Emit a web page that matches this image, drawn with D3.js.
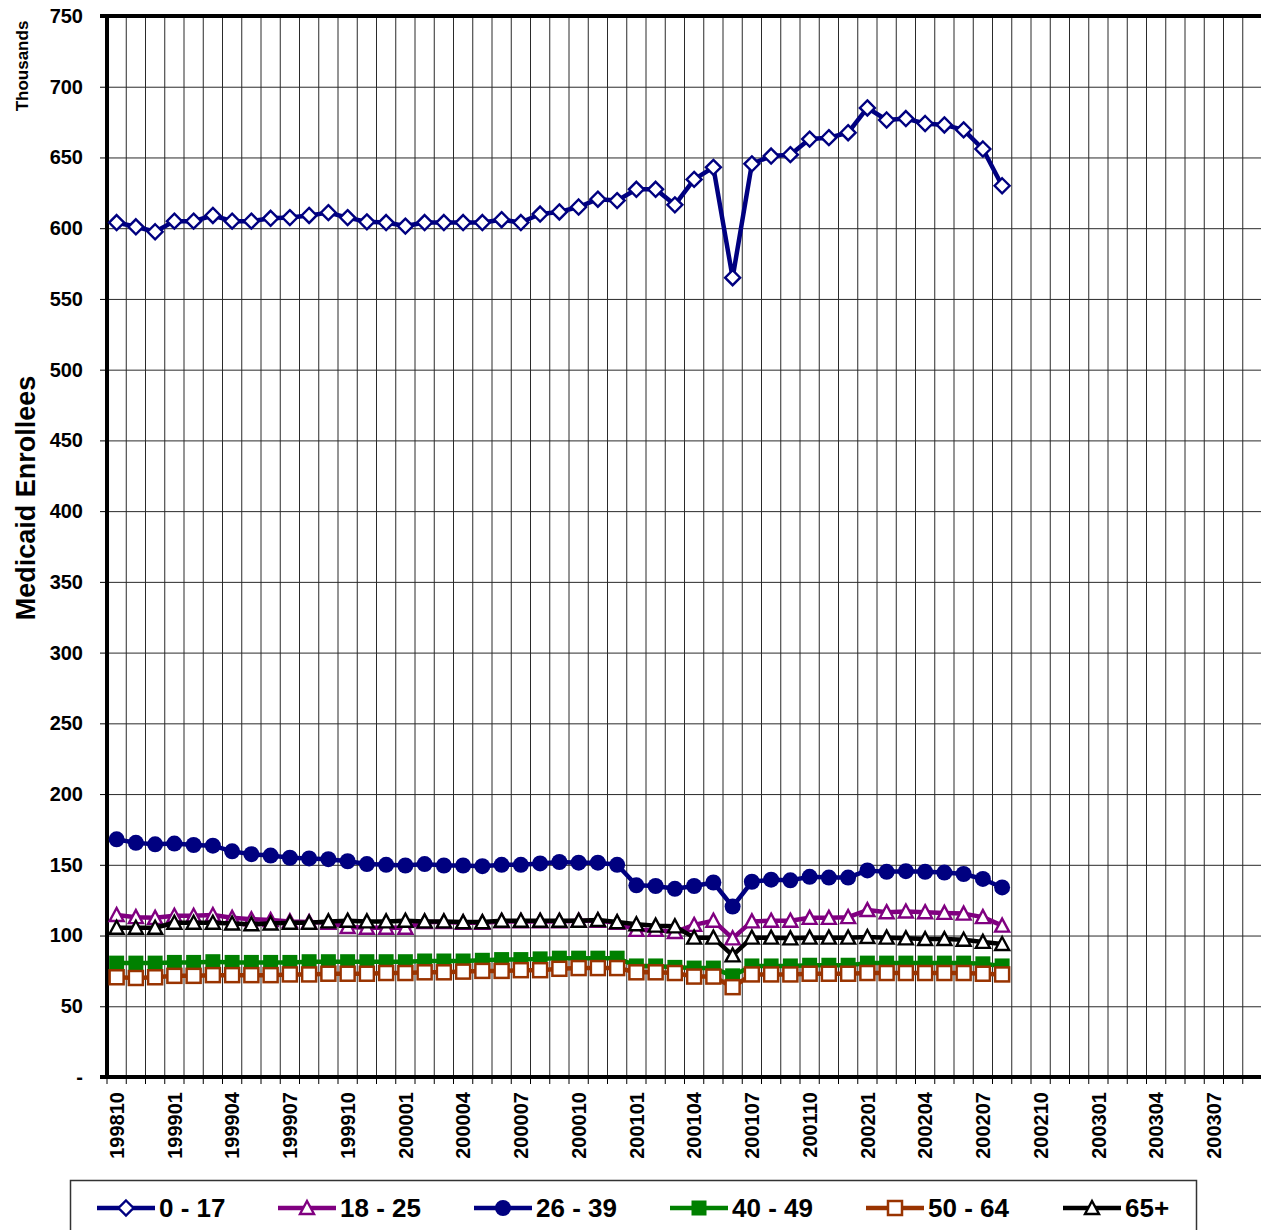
<!DOCTYPE html>
<html>
<head>
<meta charset="utf-8">
<script src="https://cdn.jsdelivr.net/npm/d3@7"></script>
<style>
  html, body { margin: 0; padding: 0; background: #fff; overflow: hidden; }
  svg { display: block; }
</style>
</head>
<body>
<div id="chart"></div>
<script>
// months shown on the category axis (data stops at 200208)
const categories = [
  "199810", "199811", "199812",
  "199901", "199902", "199903", "199904", "199905", "199906", "199907", "199908", "199909", "199910", "199911", "199912",
  "200001", "200002", "200003", "200004", "200005", "200006", "200007", "200008", "200009", "200010", "200011", "200012",
  "200101", "200102", "200103", "200104", "200105", "200106", "200107", "200108", "200109", "200110", "200111", "200112",
  "200201", "200202", "200203", "200204", "200205", "200206", "200207", "200208", "200209", "200210", "200211", "200212",
  "200301", "200302", "200303", "200304", "200305", "200306", "200307", "200308", "200309",
];

// enrollees in thousands, 199810 .. 200208
const age0to17 = [604, 601, 597.5, 605, 605, 609, 605, 605, 607, 607.5, 609, 611, 607.5, 604.5, 604, 601.5,
  604, 604, 604, 604, 606, 604, 610, 611.5, 615, 620.5, 619.5, 627.5, 627.5, 616.5, 634.5, 643, 565,
  645.5, 651, 652, 663, 664, 667.5, 685, 676.5, 677.5, 674, 673, 669.5, 656, 630];
const age18to25 = [114.5, 113, 112.5, 114, 114, 114.5, 112.5, 111.5, 111, 110, 109.5, 109, 106, 105.5, 105.5, 105.5,
  109.5, 109.5, 109, 109, 110, 110, 110, 110, 110.5, 110.5, 109, 104, 104, 102.5, 107.5, 110.5, 98,
  110, 110.5, 110.5, 112.5, 112.5, 113, 118, 116.5, 117, 116.5, 116, 115.5, 113, 107];
const age26to39 = [168, 165.5, 164.5, 165, 164, 163.5, 159.5, 157.5, 156.5, 155, 154.5, 154, 152.5, 150.5, 150, 149.5,
  150.5, 149.5, 149.5, 149, 150, 150, 151, 152, 151.5, 151.5, 150, 135.5, 135, 133, 135, 137.5, 120.5,
  138, 139.5, 139, 141.5, 141, 141, 146, 145, 145.5, 145, 144.5, 143.5, 140, 134];
const age40to49 = [80.5, 80.5, 80.5, 81, 81, 81.5, 81, 81, 81, 81, 81.5, 81.5, 81.5, 81.5, 81.5, 81.5,
  82, 82, 82, 82.5, 83, 83, 83.5, 84, 84, 84, 84, 78.5, 78.5, 77.5, 77, 77, 71.5,
  78.5, 78.5, 78.5, 79, 79, 79, 80.5, 80.5, 80.5, 80.5, 80.5, 80.5, 80, 78.5];
const age50to64 = [70.5, 70, 70.5, 71.5, 71.5, 72, 72, 72, 72, 72.5, 72.5, 73, 73, 73, 73.5, 73.5,
  74, 74, 74.5, 75, 75, 75.5, 75.5, 76.5, 77, 77, 77, 74, 74, 73.5, 71, 71, 63.5,
  72.5, 72.5, 72.5, 73, 73, 73, 73.5, 73.5, 73.5, 73.5, 73.5, 73.5, 73, 72.5];
const age65plus = [105.5, 105.5, 105.5, 109, 109, 109, 108.5, 108, 108.5, 109, 109, 110, 110.5, 110, 110, 110.5,
  110, 110, 109.5, 109.5, 110.5, 110.5, 110.5, 110.5, 110.5, 111, 109.5, 108, 107, 106.5, 98.5, 98.5, 86,
  98.5, 98.5, 98, 98.5, 98.5, 98.5, 99, 98.5, 98, 97.5, 97.5, 97, 95.5, 94];

const seriesNames = ["0 - 17", "18 - 25", "26 - 39", "40 - 49", "50 - 64", "65+"];
const yTicks = [0, 50, 100, 150, 200, 250, 300, 350, 400, 450, 500, 550, 600, 650, 700, 750];

const series = [
  { name: seriesNames[0], values: age0to17, color: "#000080", marker: "diamond" },
  { name: seriesNames[1], values: age18to25, color: "#800080", marker: "triangle" },
  { name: seriesNames[2], values: age26to39, color: "#000080", marker: "circle" },
  { name: seriesNames[3], values: age40to49, color: "#008000", marker: "filledSquare" },
  { name: seriesNames[4], values: age50to64, color: "#993300", marker: "square" },
  { name: seriesNames[5], values: age65plus, color: "#000000", marker: "triangle" },
];

const width = 1261;
const height = 1230;
const font = "'Liberation Sans', Arial, sans-serif";
const plot = { left: 107, right: 1262, top: 16, bottom: 1077 };

const svg = d3.select("#chart")
  .append("svg")
  .attr("width", width)
  .attr("height", height)
  .attr("viewBox", `0 0 ${width} ${height}`);

const x = d3.scaleBand()
  .domain(categories)
  .range([plot.left, plot.right])
  .padding(0);

const y = d3.scaleLinear()
  .domain([0, 750])
  .range([plot.bottom, plot.top]);

const cx = (i) => x(categories[i]) + x.bandwidth() / 2;

// gridlines
svg.append("g")
  .attr("transform", `translate(${plot.left},0)`)
  .call(d3.axisLeft(y).tickValues(yTicks.slice(1, -1)).tickSize(-(plot.right - plot.left)).tickFormat(""))
  .call((g) => g.select(".domain").remove())
  .call((g) => g.selectAll("line").attr("stroke", "#2a2a2a").attr("stroke-width", 1));

svg.append("g")
  .selectAll("line")
  .data(categories.slice(1))
  .join("line")
  .attr("x1", (c) => x(c))
  .attr("x2", (c) => x(c))
  .attr("y1", plot.top)
  .attr("y2", plot.bottom)
  .attr("stroke", "#2a2a2a")
  .attr("stroke-width", 1);

// small ticks under the category axis
svg.append("g")
  .selectAll("line")
  .data(categories)
  .join("line")
  .attr("x1", (c) => x(c))
  .attr("x2", (c) => x(c))
  .attr("y1", plot.bottom)
  .attr("y2", plot.bottom + 7)
  .attr("stroke", "#000")
  .attr("stroke-width", 1);

// value axis
svg.append("g")
  .attr("transform", `translate(${plot.left},0)`)
  .call(d3.axisLeft(y).tickValues(yTicks).tickSize(7).tickPadding(17).tickFormat((v) => (v === 0 ? "-" : v)))
  .call((g) => g.select(".domain").remove())
  .call((g) => g.selectAll("line").attr("stroke", "#000"))
  .call((g) => g.selectAll("text")
    .attr("fill", "#000")
    .attr("font-family", font)
    .attr("font-weight", "bold")
    .attr("font-size", 20));

// category axis labels, every third month
svg.append("g")
  .attr("transform", `translate(0,${plot.bottom})`)
  .call(d3.axisBottom(x).tickValues(categories.filter((c, i) => i % 3 === 0)).tickSize(0))
  .call((g) => g.select(".domain").remove())
  .call((g) => g.selectAll("text")
    .attr("fill", "#000")
    .attr("font-family", font)
    .attr("font-weight", "bold")
    .attr("font-size", 20)
    .attr("text-anchor", "end")
    .attr("transform", "rotate(-90)")
    .attr("x", -15)
    .attr("y", 0)
    .attr("dy", "0.36em"));

// frame
svg.append("line")
  .attr("x1", plot.left - 7).attr("x2", plot.right)
  .attr("y1", plot.top).attr("y2", plot.top)
  .attr("stroke", "#000").attr("stroke-width", 4);
svg.append("line")
  .attr("x1", plot.left - 7).attr("x2", plot.right)
  .attr("y1", plot.bottom).attr("y2", plot.bottom)
  .attr("stroke", "#000").attr("stroke-width", 4);
svg.append("line")
  .attr("x1", plot.left).attr("x2", plot.left)
  .attr("y1", plot.top - 2).attr("y2", plot.bottom + 2)
  .attr("stroke", "#000").attr("stroke-width", 4);

// titles
svg.append("text")
  .attr("transform", "translate(35,498) rotate(-90)")
  .attr("text-anchor", "middle")
  .attr("font-family", font)
  .attr("font-weight", "bold")
  .attr("font-size", 27)
  .text("Medicaid Enrollees");

svg.append("text")
  .attr("transform", "translate(28,66) rotate(-90)")
  .attr("text-anchor", "middle")
  .attr("font-family", font)
  .attr("font-weight", "bold")
  .attr("font-size", 17)
  .text("Thousands");

function drawMarker(sel, s) {
  if (s.marker === "circle") {
    sel.append("circle").attr("r", 8).attr("fill", s.color);
  } else if (s.marker === "filledSquare") {
    sel.append("rect").attr("x", -7.5).attr("y", -7.5).attr("width", 15).attr("height", 15).attr("fill", s.color);
  } else if (s.marker === "square") {
    sel.append("rect").attr("x", -7).attr("y", -7).attr("width", 14).attr("height", 14)
      .attr("fill", "#fff").attr("stroke", s.color).attr("stroke-width", 2.5);
  } else if (s.marker === "diamond") {
    sel.append("path").attr("d", "M0,-7.5L7.5,0L0,7.5L-7.5,0Z")
      .attr("fill", "#fff").attr("stroke", s.color).attr("stroke-width", 2.4);
  } else {
    sel.append("path").attr("d", "M0,-7L7,6L-7,6Z")
      .attr("fill", "#fff").attr("stroke", s.color).attr("stroke-width", 2.4);
  }
}

const line = d3.line()
  .x((d, i) => cx(i))
  .y((d) => y(d));

series.forEach((s) => {
  const g = svg.append("g");
  g.append("path")
    .datum(s.values)
    .attr("fill", "none")
    .attr("stroke", s.color)
    .attr("stroke-width", 4.5)
    .attr("stroke-linejoin", "round")
    .attr("d", line);
  g.selectAll("g.pt")
    .data(s.values)
    .join("g")
    .attr("class", "pt")
    .attr("transform", (d, i) => `translate(${cx(i)},${y(d)})`)
    .each(function () { drawMarker(d3.select(this), s); });
});

// legend
svg.append("rect")
  .attr("x", 70.5).attr("y", 1180.5)
  .attr("width", 1126).attr("height", 70)
  .attr("fill", "#fff")
  .attr("stroke", "#333")
  .attr("stroke-width", 1.5);

const legendX = [97, 278, 474, 670, 866, 1063];
const legendY = 1208;

series.forEach((s, i) => {
  const g = svg.append("g").attr("transform", `translate(${legendX[i]},${legendY})`);
  g.append("line")
    .attr("x1", 0).attr("x2", 58)
    .attr("stroke", s.color).attr("stroke-width", 4.5);
  drawMarker(g.append("g").attr("transform", "translate(29,0)"), s);
  g.append("text")
    .attr("x", 62)
    .attr("dy", "0.36em")
    .attr("font-family", font)
    .attr("font-weight", "bold")
    .attr("font-size", 26)
    .text(s.name);
});
</script>
</body>
</html>
